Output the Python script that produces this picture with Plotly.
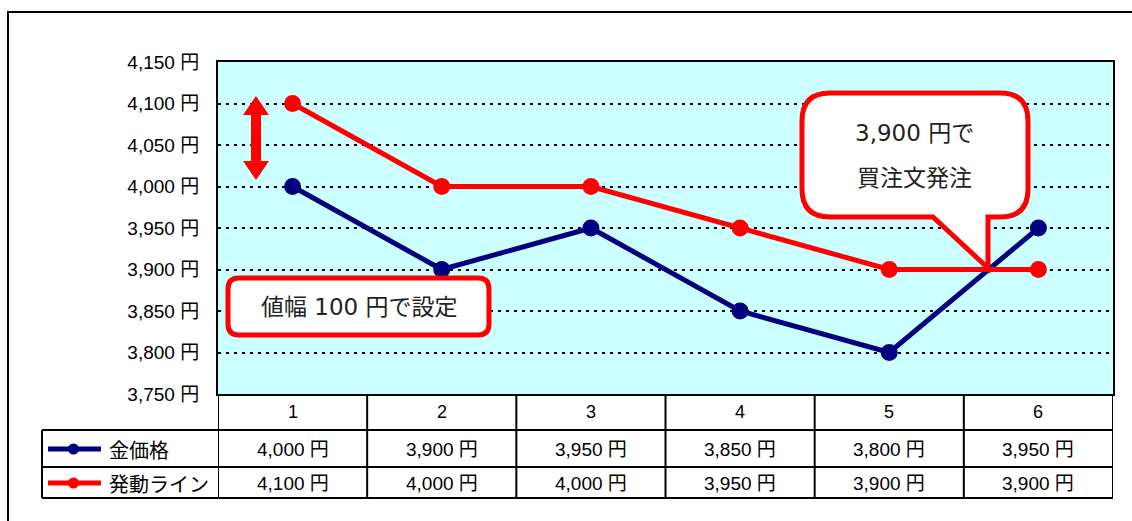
import plotly.graph_objects as go

# ---------------- data ----------------
categories = [1, 2, 3, 4, 5, 6]
gold_price = [4000, 3900, 3950, 3850, 3800, 3950]
trigger_line = [4100, 4000, 4000, 3950, 3900, 3900]
series_names = ["金価格", "発動ライン"]
series_colors = ["#000080", "#FF0000"]
y_ticks = [3750, 3800, 3850, 3900, 3950, 4000, 4050, 4100, 4150]
y_tick_labels = [f"{v:,} 円" for v in y_ticks]
note_range = "値幅 100 円で設定"
note_order = ["3,900 円で", "買注文発注"]

# ---------------- layout helpers ----------------
W, H = 1132, 521
NUM_FONT = "Liberation Sans, Noto Sans CJK JP"
JP_FONT = "Noto Sans CJK JP"
NOTE_FONT = "DejaVu Sans, Noto Sans CJK JP"


def px(x):
    return x / W


def py(y):
    return 1 - y / H


def pt(x, y):
    return f"{px(x):.5f},{py(y):.5f}"


PL, PR, PT, PB = 218, 1113, 62, 394
ROW_H = 430
ROW_1 = 467
ROW_2 = 498
LEG_X = 42

fig = go.Figure()
for name, vals, col in zip(series_names, [gold_price, trigger_line], series_colors):
    fig.add_trace(go.Scatter(
        x=categories, y=vals, mode="lines+markers", name=name,
        line=dict(color=col, width=5),
        marker=dict(color=col, size=17),
        showlegend=False, cliponaxis=False,
    ))

shapes = []
annotations = []


def label(x, y, text, size, family, xref="paper", xanchor="center", color="black"):
    annotations.append(dict(x=x, y=y, xref=xref, yref="paper", text=text,
                            xanchor=xanchor, yanchor="middle", showarrow=False,
                            font=dict(size=size, color=color, family=family)))


# outer chart border
shapes.append(dict(type="rect", xref="paper", yref="paper",
                   x0=px(8), x1=px(1140), y0=py(530), y1=py(12),
                   line=dict(color="black", width=2), layer="below"))

# data table lines
for yy in [ROW_H, ROW_1, ROW_2]:
    shapes.append(dict(type="line", xref="paper", yref="paper",
                       x0=px(LEG_X), x1=px(PR), y0=py(yy), y1=py(yy),
                       line=dict(color="black", width=2)))
shapes.append(dict(type="line", xref="paper", yref="paper",
                   x0=px(LEG_X), x1=px(LEG_X), y0=py(ROW_H), y1=py(ROW_2),
                   line=dict(color="black", width=2)))
for k in range(len(categories) + 1):
    xb = categories[0] - 0.5 + k
    shapes.append(dict(type="line", xref="x", yref="paper",
                       x0=xb, x1=xb, y0=py(PB), y1=py(ROW_2),
                       line=dict(color="black", width=2)))

# table text
for c in categories:
    label(c, py(412), str(c), 18, NUM_FONT, xref="x")
for vals, yc in [(gold_price, 449), (trigger_line, 483)]:
    for c, v in zip(categories, vals):
        label(c, py(yc), f"{v:,} 円", 19, NUM_FONT, xref="x")

# legend keys
for name, col, yc in zip(series_names, series_colors, [449, 483]):
    shapes.append(dict(type="line", xref="paper", yref="paper",
                       x0=px(48), x1=px(101), y0=py(yc), y1=py(yc),
                       line=dict(color=col, width=5)))
    shapes.append(dict(type="circle", xref="paper", yref="paper",
                       x0=px(68), x1=px(79), y0=py(yc + 5.5), y1=py(yc - 5.5),
                       fillcolor=col, line=dict(color=col, width=0)))
    label(px(107), py(yc), name, 20, JP_FONT, xanchor="left")

# double-headed red arrow
cx, ytop, ybot, hw, hl, sw = 256, 96, 180, 13, 19, 5
arrow = [(cx, ytop), (cx + hw, ytop + hl), (cx + sw, ytop + hl), (cx + sw, ybot - hl),
         (cx + hw, ybot - hl), (cx, ybot), (cx - hw, ybot - hl), (cx - sw, ybot - hl),
         (cx - sw, ytop + hl), (cx - hw, ytop + hl)]
shapes.append(dict(type="path", xref="paper", yref="paper",
                   path="M " + " L ".join(pt(a, b) for a, b in arrow) + " Z",
                   fillcolor="#FF0000", line=dict(color="#FF0000", width=0)))


def rounded(x0, y0, x1, y1, r, tail=None):
    p = f"M {pt(x0 + r, y0)} L {pt(x1 - r, y0)} Q {pt(x1, y0)} {pt(x1, y0 + r)} "
    p += f"L {pt(x1, y1 - r)} Q {pt(x1, y1)} {pt(x1 - r, y1)} "
    if tail:
        for a, b in tail:
            p += f"L {pt(a, b)} "
    p += f"L {pt(x0 + r, y1)} Q {pt(x0, y1)} {pt(x0, y1 - r)} "
    p += f"L {pt(x0, y0 + r)} Q {pt(x0, y0)} {pt(x0 + r, y0)} Z"
    return p


# callout box
shapes.append(dict(type="path", xref="paper", yref="paper",
                   path=rounded(228, 278, 489, 335, 11),
                   fillcolor="white", line=dict(color="#FF0000", width=5)))
label(px(359), py(307), note_range, 23, NOTE_FONT, color="#222222")

# speech bubble
shapes.append(dict(type="path", xref="paper", yref="paper",
                   path=rounded(802, 93, 1028, 217, 28,
                                tail=[(988, 217), (988, 268), (933, 217)]),
                   fillcolor="white", line=dict(color="#FF0000", width=5)))
label(px(914), py(133), note_order[0], 23, NOTE_FONT, color="#222222")
label(px(914), py(178), note_order[1], 23, NOTE_FONT, color="#222222")

fig.update_layout(
    width=W, height=H,
    margin=dict(l=0, r=0, t=0, b=0, autoexpand=False),
    paper_bgcolor="white",
    plot_bgcolor="#CCFFFF",
    shapes=shapes,
    annotations=annotations,
    xaxis=dict(domain=[px(PL), px(PR)], range=[0.5, 6.5], showticklabels=False,
               showgrid=False, zeroline=False, showline=True, mirror=True,
               linecolor="black", linewidth=2, fixedrange=True, automargin=False),
    yaxis=dict(domain=[py(PB), py(PT)], range=[3750, 4150], tickvals=y_ticks,
               ticktext=y_tick_labels, showgrid=True, gridcolor="black", gridwidth=1.5,
               griddash="3px,5px", zeroline=False, showline=True, mirror=True,
               linecolor="black", linewidth=2, ticks="", ticklabelstandoff=13,
               automargin=False,
               tickfont=dict(size=19, color="black", family=NUM_FONT), fixedrange=True),
)

fig.write_html("out.html", config={"displayModeBar": False},
               post_script="document.body.style.margin='0';document.body.style.overflow='hidden';")
